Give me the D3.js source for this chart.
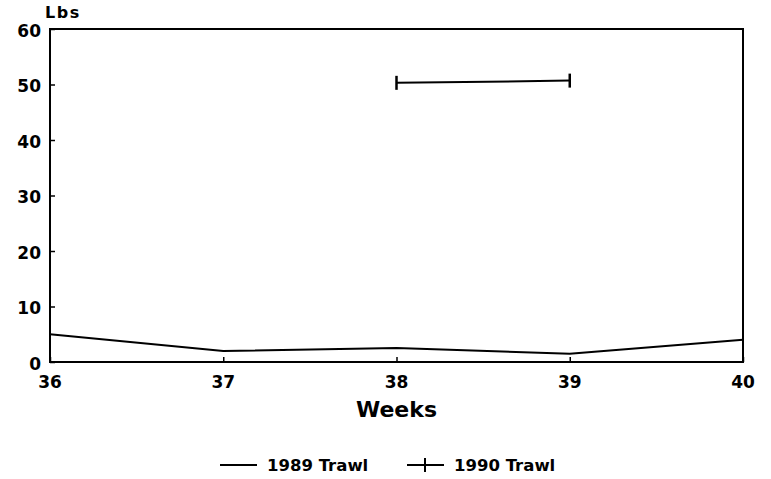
<!DOCTYPE html>
<html>
<head>
<meta charset="utf-8">
<script src="https://cdn.jsdelivr.net/npm/d3@7"></script>
<style>
  body { margin: 0; background: #fff; }
  text { font-family: "DejaVu Sans", sans-serif; font-weight: bold; fill: #000; }
</style>
</head>
<body>
<div id="chart"></div>
<script>
var weeks = [36, 37, 38, 39, 40];
var trawl1989 = [5, 2, 2.5, 1.5, 4];
var weeks1990 = [38, 39];
var trawl1990 = [50.3, 50.7];
var yTicks = [0, 10, 20, 30, 40, 50, 60];

var width = 771, height = 479,
  margin = { top: 29, right: 28, bottom: 117, left: 50 };

var svg = d3.select("#chart").append("svg")
  .attr("width", width)
  .attr("height", height);

var x = d3.scaleLinear()
  .domain([36, 40])
  .range([margin.left, width - margin.right]);

var y = d3.scaleLinear()
  .domain([0, 60])
  .range([height - margin.bottom, margin.top]);

// frame
svg.append("rect")
  .attr("x", x(36)).attr("y", y(60))
  .attr("width", x(40) - x(36)).attr("height", y(0) - y(60))
  .attr("fill", "none").attr("stroke", "#000").attr("stroke-width", 2);

// y axis, ticks pointing inside
var yAxis = svg.append("g")
  .attr("transform", "translate(" + x(36) + ",0)")
  .call(d3.axisRight(y).tickValues(yTicks).tickSize(5).tickFormat(""));
yAxis.select(".domain").remove();
yAxis.selectAll("line").attr("stroke-width", 1.5);

svg.selectAll(".ylab")
  .data(yTicks)
  .enter().append("text")
  .attr("class", "ylab")
  .attr("x", x(36) - 9)
  .attr("y", function (d) { return y(d) + 7.5; })
  .attr("text-anchor", "end")
  .style("font-size", "17px")
  .text(function (d) { return d; });

// x axis ticks, pointing up
var xAxis = svg.append("g")
  .attr("transform", "translate(0," + y(0) + ")")
  .call(d3.axisTop(x).tickValues(weeks).tickSize(5).tickFormat(""));
xAxis.select(".domain").remove();
xAxis.selectAll("line").attr("stroke-width", 1.5);

svg.selectAll(".xlab")
  .data(weeks)
  .enter().append("text")
  .attr("class", "xlab")
  .attr("x", function (d) { return x(d); })
  .attr("y", y(0) + 26)
  .attr("text-anchor", "middle")
  .style("font-size", "17px")
  .text(function (d) { return d; });

svg.append("text")
  .attr("x", 45).attr("y", 18)
  .style("font-size", "16px")
  .style("letter-spacing", "1.5px")
  .text("Lbs");

svg.append("text")
  .attr("x", (x(36) + x(40)) / 2).attr("y", 417)
  .attr("text-anchor", "middle")
  .style("font-size", "22px")
  .text("Weeks");

var line = d3.line()
  .x(function (d) { return x(d[0]); })
  .y(function (d) { return y(d[1]); });

svg.append("path")
  .datum(d3.zip(weeks, trawl1989))
  .attr("d", line)
  .attr("fill", "none").attr("stroke", "#000").attr("stroke-width", 2);

svg.append("path")
  .datum(d3.zip(weeks1990, trawl1990))
  .attr("d", line)
  .attr("fill", "none").attr("stroke", "#000").attr("stroke-width", 2);

svg.selectAll(".plus")
  .data(d3.zip(weeks1990, trawl1990))
  .enter().append("path")
  .attr("class", "plus")
  .attr("d", function (d) {
    var cx = x(d[0]), cy = y(d[1]);
    return "M" + cx + "," + (cy - 7) + "V" + (cy + 7);
  })
  .attr("stroke", "#000").attr("stroke-width", 2.5);

// legend
var lg = svg.append("g").attr("transform", "translate(0,471)");
lg.append("line").attr("x1", 220).attr("x2", 257).attr("y1", -6).attr("y2", -6)
  .attr("stroke", "#000").attr("stroke-width", 2);
lg.append("text").attr("x", 267).attr("y", 0).style("font-size", "16.5px").text("1989 Trawl");
lg.append("line").attr("x1", 407).attr("x2", 444).attr("y1", -6).attr("y2", -6)
  .attr("stroke", "#000").attr("stroke-width", 2);
lg.append("line").attr("x1", 425).attr("x2", 425).attr("y1", -13).attr("y2", 1)
  .attr("stroke", "#000").attr("stroke-width", 2);
lg.append("text").attr("x", 454).attr("y", 0).style("font-size", "16.5px").text("1990 Trawl");
</script>
</body>
</html>
